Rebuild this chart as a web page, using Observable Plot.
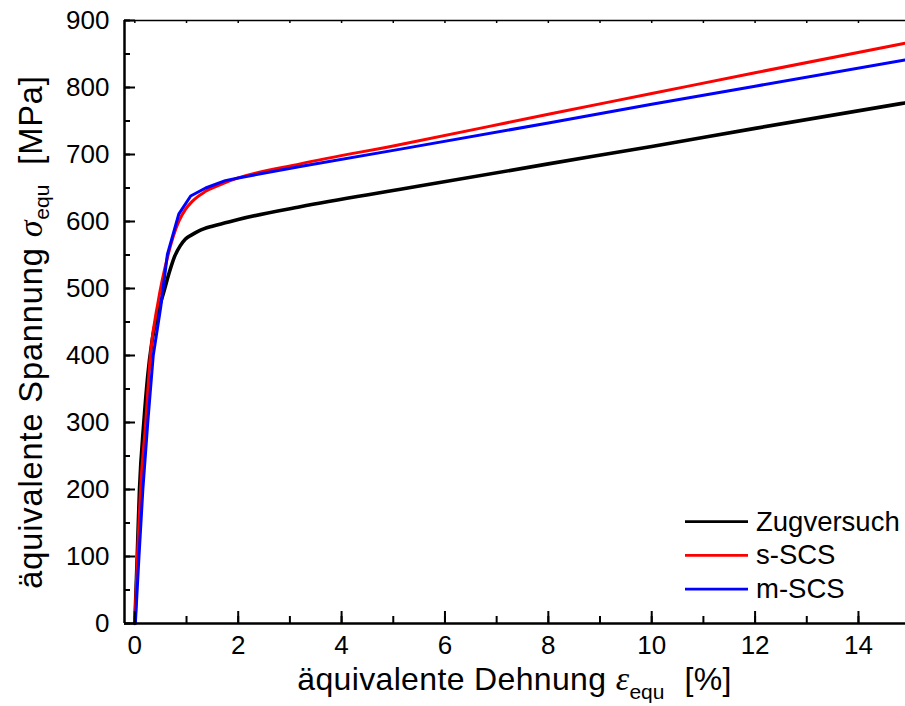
<!DOCTYPE html>
<html><head><meta charset="utf-8">
<script src="https://cdn.jsdelivr.net/npm/d3@7"></script>
<script src="https://cdn.jsdelivr.net/npm/@observablehq/plot@0.6"></script>
<style>body{margin:0;background:#fff} svg{display:block}</style>
</head><body><div id="chart"></div>
<script>
// ---- data ----
const seriesNames = ["Zugversuch", "s-SCS", "m-SCS"];
const seriesColors = ["#000000", "#ff0000", "#0000ff"];
const seriesWidths = [3.6, 3, 3];

const zugStrain = [0, 0.046, 0.09, 0.174, 0.25, 0.33, 0.43, 0.55, 0.67, 0.77, 0.88, 0.98, 1.1, 1.24, 1.5, 1.75, 2, 3.2, 5.14, 8, 10, 12, 14.9];
const zugStress = [0, 100, 200, 300, 370, 420, 460, 492, 525, 548, 564, 574, 580, 586, 593, 598, 603, 622, 648, 686, 712, 739, 777];

const sScsStrain = [0, 0.05, 0.11, 0.21, 0.3, 0.45, 0.63, 0.85, 0.98, 1.11, 1.37, 1.75, 2, 3.2, 5.14, 8, 10, 12, 14.9];
const sScsStress = [0, 100, 200, 300, 400, 480, 546, 600, 618, 630, 645, 658, 665, 686, 715, 760, 791, 822, 866];

const mScsStrain = [0.01, 0.08, 0.155, 0.25, 0.356, 0.5, 0.63, 0.85, 1.08, 1.37, 1.75, 2, 3.2, 5.14, 8, 10, 12, 14.9];
const mScsStress = [0, 100, 200, 300, 400, 472, 551, 611, 638, 650, 661, 665, 682, 708, 747, 775, 802, 841];

const xMajorTicks = [0, 2, 4, 6, 8, 10, 12, 14];
const xMinorTicks = [0, 1, 2, 3, 4, 5, 6, 7, 8, 9, 10, 11, 12, 13, 14];
const yMajorTicks = [0, 100, 200, 300, 400, 500, 600, 700, 800, 900];
const yMinorTicks = [0, 50, 100, 150, 200, 250, 300, 350, 400, 450, 500, 550, 600, 650, 700, 750, 800, 850, 900];

const xDomain = [-0.2, 14.91];
const yDomain = [0, 900];

// ---- build tables ----
const rawSeries = [[zugStrain, zugStress], [sScsStrain, sScsStress], [mScsStrain, mScsStress]];
const seriesRows = rawSeries.map(([xs, ys], i) => xs.map((x, j) => ({series: seriesNames[i], strain: x, stress: ys[j]})));

const W = 905, H = 706;
const mL = 124, mR = 0, mT = 20, mB = 83;
const FONT = "'Liberation Sans', Arial, Helvetica, sans-serif";

const chart = Plot.plot({
  width: W, height: H,
  marginLeft: mL, marginRight: mR, marginTop: mT, marginBottom: mB,
  style: {fontFamily: FONT, fontSize: "26px", color: "#000", background: "#fff", overflow: "visible"},
  x: {domain: xDomain, label: null},
  y: {domain: yDomain, label: null},
  color: {domain: seriesNames, range: seriesColors},
  marks: [
    ...seriesRows.map((rows, i) => Plot.line(rows, {
      x: "strain", y: "stress", stroke: "series", strokeWidth: seriesWidths[i],
      curve: i === 2 ? "linear" : "monotone-x"
    })),
    // axis lines / frame
    Plot.ruleY([yDomain[0]], {strokeWidth: 2.5}),
    Plot.ruleX([xDomain[0]], {strokeWidth: 2.5}),
    Plot.ruleY([yDomain[1]], {strokeWidth: 1.5}),
    // y axis
    Plot.axisY(yMajorTicks, {anchor: "left", tickSize: 0, tickPadding: 15, fontSize: 26, label: null}),
    Plot.axisY(yMajorTicks, {anchor: "left", tickSize: -11, strokeWidth: 2, text: null, label: null}),
    Plot.axisY(yMinorTicks, {anchor: "left", tickSize: -6, strokeWidth: 2, text: null, label: null}),
    // x axis
    Plot.axisX(xMajorTicks, {anchor: "bottom", tickSize: 0, tickPadding: 12, fontSize: 26, label: null}),
    Plot.axisX(xMajorTicks, {anchor: "bottom", tickSize: -12, strokeWidth: 2, text: null, label: null}),
    Plot.axisX(xMinorTicks, {anchor: "bottom", tickSize: -7, strokeWidth: 2, text: null, label: null}),
    Plot.axisX(xMinorTicks, {anchor: "top", tickSize: -2, strokeWidth: 1.5, text: null, label: null})
  ]
});
document.getElementById("chart").appendChild(chart);

const svg = d3.select(chart);
const SERIF = "'Liberation Serif', 'DejaVu Serif', serif";

// x axis title
const xt = svg.append("text")
  .attr("x", mL + (W - mL - mR) / 2).attr("y", 690)
  .attr("text-anchor", "middle")
  .style("font-family", FONT).style("font-size", "32px").style("letter-spacing", "0.35px").attr("fill", "#000");
xt.append("tspan").text("äquivalente Dehnung ");
xt.append("tspan").text("ε").style("font-family", SERIF).style("font-style", "italic").style("font-size", "34px");
xt.append("tspan").text("equ").style("font-size", "21px").style("letter-spacing", "0px").attr("dy", 9);
xt.append("tspan").text("[%]").attr("dy", -9).attr("dx", 20);

// y axis title
const yt = svg.append("text")
  .attr("transform", `translate(42, 332) rotate(-90)`)
  .attr("text-anchor", "middle")
  .style("font-family", FONT).style("font-size", "32.5px").style("letter-spacing", "0.9px").attr("fill", "#000");
yt.append("tspan").text("äquivalente Spannung ");
yt.append("tspan").text("σ").style("font-family", SERIF).style("font-style", "italic").style("font-size", "34px");
yt.append("tspan").text("equ").style("font-size", "21px").style("letter-spacing", "0px").attr("dy", 7);
yt.append("tspan").text("[MPa]").attr("dy", -7).attr("dx", 20);

// legend
const leg = svg.append("g").attr("text-anchor", "start");
seriesNames.forEach((name, i) => {
  const cy = 521.7 + i * 33.7;
  leg.append("line").attr("x1", 685).attr("x2", 748).attr("y1", cy).attr("y2", cy)
    .attr("stroke", seriesColors[i]).attr("stroke-width", 2.8);
  leg.append("text").attr("x", 756).attr("y", cy + 9).attr("text-anchor", "start")
    .style("font-family", FONT).style("font-size", "27.5px").attr("fill", "#000").text(name);
});
</script>
</body></html>
